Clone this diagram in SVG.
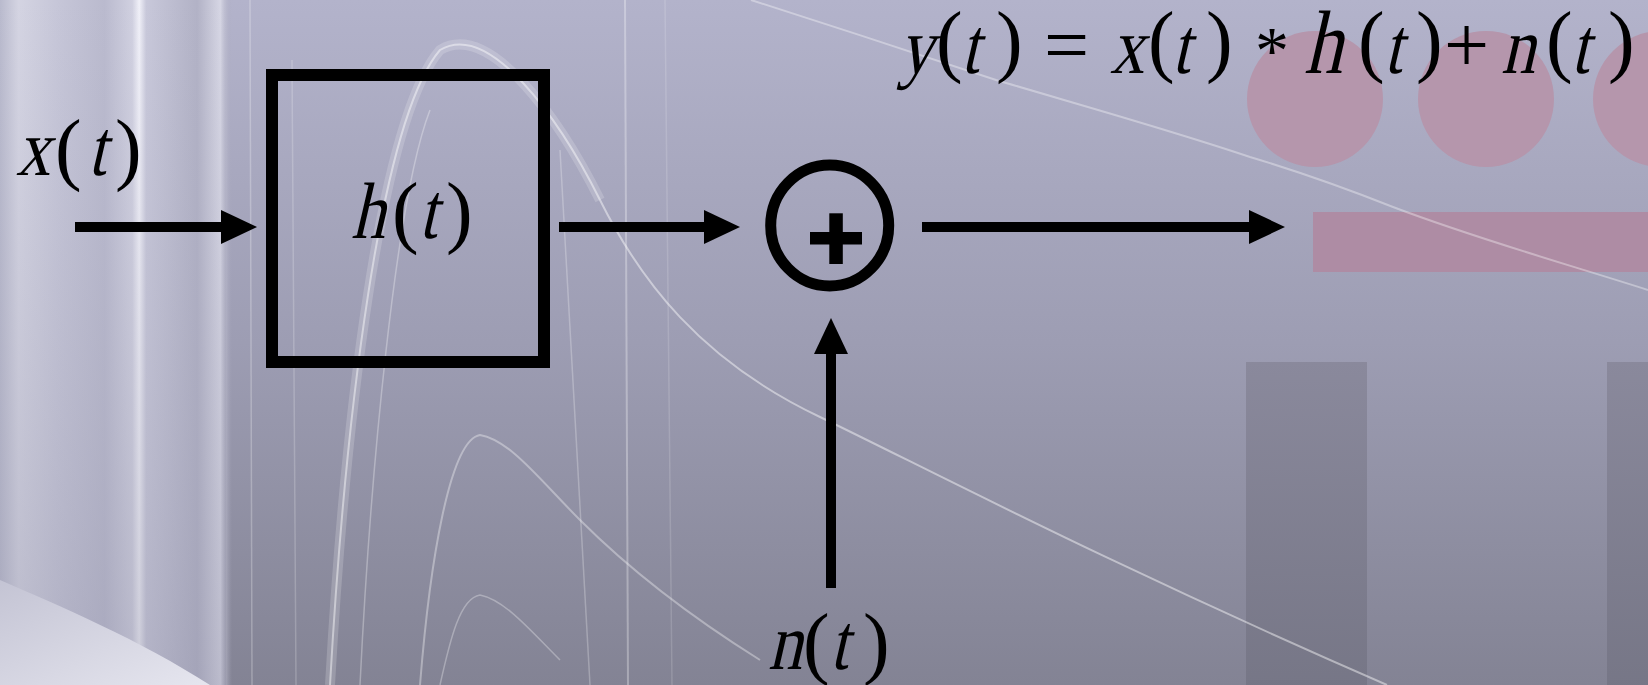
<svg xmlns="http://www.w3.org/2000/svg" width="1648" height="685" viewBox="0 0 1648 685">
  <defs>
    <linearGradient id="bg" x1="0" y1="0" x2="0" y2="1">
      <stop offset="0" stop-color="#b3b3cb"/>
      <stop offset="0.5" stop-color="#9d9db3"/>
      <stop offset="1" stop-color="#838394"/>
    </linearGradient>
    <linearGradient id="leftPanel" x1="0" y1="0" x2="1" y2="0">
      <stop offset="0" stop-color="#b9bacd"/>
      <stop offset="0.08" stop-color="#d4d4e2"/>
      <stop offset="0.25" stop-color="#c6c6d8"/>
      <stop offset="0.45" stop-color="#babace"/>
      <stop offset="0.57" stop-color="#d0d0e0"/>
      <stop offset="0.6" stop-color="#f0f0f8"/>
      <stop offset="0.63" stop-color="#c8c8da"/>
      <stop offset="0.85" stop-color="#b2b2c6"/>
      <stop offset="0.95" stop-color="#d6d6e4"/>
      <stop offset="1" stop-color="#a8a8bc" stop-opacity="0"/>
    </linearGradient>
    <linearGradient id="leftShade" x1="0" y1="0" x2="0" y2="1">
      <stop offset="0" stop-color="#9a9ab0" stop-opacity="0"/>
      <stop offset="1" stop-color="#8a8aa0" stop-opacity="0.35"/>
    </linearGradient>
    <linearGradient id="curl" x1="0" y1="0" x2="1" y2="1">
      <stop offset="0" stop-color="#c4c4d4"/>
      <stop offset="1" stop-color="#e6e6ef"/>
    </linearGradient>
    <linearGradient id="bar" x1="0" y1="0" x2="0" y2="1">
      <stop offset="0" stop-color="#8a899c"/>
      <stop offset="1" stop-color="#767686"/>
    </linearGradient>
    <marker id="arrow" markerUnits="userSpaceOnUse" markerWidth="36" markerHeight="34" refX="2" refY="17" orient="auto">
      <path d="M0,0 L36,17 L0,34 Z" fill="#000"/>
    </marker>
    <style>
      .math { font-family: "Liberation Serif", "Times New Roman", serif; font-size: 80px; fill: #000; }
      .conn { stroke: #000; stroke-width: 10; fill: none; marker-end: url(#arrow); }
      .streak { stroke: #ffffff; fill: none; }
    </style>
  </defs>

  <g id="background">
    <rect x="0" y="0" width="1648" height="685" fill="url(#bg)"/>
    <rect x="0" y="0" width="232" height="685" fill="url(#leftPanel)"/>
    <rect x="0" y="0" width="226" height="685" fill="url(#leftShade)"/>
    <path d="M0,580 C60,606 140,640 210,685 L0,685 Z" fill="url(#curl)"/>
    <circle cx="1315" cy="99" r="68" fill="#b596ac"/>
    <circle cx="1486" cy="99" r="68" fill="#b596ac"/>
    <circle cx="1661" cy="99" r="68" fill="#b596ac"/>
    <rect x="1313" y="212" width="340" height="60" fill="#ae8ca4"/>
    <rect x="1246" y="362" width="121" height="330" fill="url(#bar)"/>
    <rect x="1607" y="362" width="60" height="330" fill="url(#bar)"/>
    <g class="streak">
      <path d="M330,685 C345,420 380,120 440,50 C490,20 560,120 600,200" stroke-opacity="0.18" stroke-width="10"/>
      <path d="M330,685 C345,420 380,120 440,50 C490,20 560,120 600,200 C640,280 700,360 820,417 C930,470 1100,560 1387,685" stroke-opacity="0.45" stroke-width="2"/>
      <path d="M751,0 C830,25 920,55 996,80 C1080,105 1170,130 1250,157 C1300,172 1350,190 1393,207 C1480,240 1570,265 1648,290" stroke-opacity="0.35" stroke-width="2"/>
      <path d="M420,685 C430,560 450,440 480,435 C510,440 540,480 580,520 C620,560 680,610 760,660" stroke-opacity="0.35" stroke-width="2"/>
      <path d="M440,685 C450,640 460,598 480,595 C505,600 530,630 560,660" stroke-opacity="0.3" stroke-width="1.5"/>
      <path d="M360,685 C370,480 395,200 430,110" stroke-opacity="0.3" stroke-width="1.5"/>
      <line x1="250" y1="0" x2="252" y2="685" stroke-opacity="0.25" stroke-width="1.5"/>
      <line x1="292" y1="60" x2="296" y2="685" stroke-opacity="0.2" stroke-width="1.5"/>
      <line x1="560" y1="150" x2="590" y2="685" stroke-opacity="0.25" stroke-width="1.5"/>
      <line x1="625" y1="0" x2="628" y2="685" stroke-opacity="0.3" stroke-width="2"/>
      <line x1="665" y1="0" x2="672" y2="685" stroke-opacity="0.15" stroke-width="1.5"/>
    </g>
  </g>

  <g id="connectors">
    <line class="conn" x1="75" y1="227" x2="223" y2="227"/>
    <line class="conn" x1="559" y1="227" x2="706" y2="227"/>
    <line class="conn" x1="922" y1="227" x2="1251" y2="227"/>
    <line class="conn" x1="831" y1="588" x2="831" y2="352"/>
  </g>

  <g id="node-x">
    <g transform="translate(16 175) skewX(-13) scale(0.85 1) translate(-16 -175)"><text class="math" x="16" y="175">x</text></g>
    <text class="math" x="55" y="175">(</text>
    <g transform="translate(88 175) skewX(-13) scale(0.8 1) translate(-88 -175)"><text class="math" x="88" y="175">t</text></g>
    <text class="math" x="115" y="175">)</text>
  </g>

  <g id="node-h">
    <rect x="272" y="75" width="272" height="287" fill="none" stroke="#000" stroke-width="12"/>
    <g transform="translate(351 238) skewX(-13) scale(0.85 1) translate(-351 -238)"><text class="math" x="351" y="238">h</text></g>
    <text class="math" x="392" y="238">(</text>
    <g transform="translate(419 238) skewX(-13) scale(0.8 1) translate(-419 -238)"><text class="math" x="419" y="238">t</text></g>
    <text class="math" x="446" y="238">)</text>
  </g>

  <g id="node-sum">
    <ellipse cx="829.7" cy="225.5" rx="59" ry="60.5" fill="none" stroke="#000" stroke-width="11"/>
    <rect x="810" y="232" width="52" height="12.5" fill="#000"/>
    <rect x="829.3" y="213.3" width="13.5" height="50.7" fill="#000"/>
  </g>

  <g id="node-n">
    <g transform="translate(768 669) skewX(-13) scale(0.85 1) translate(-768 -669)"><text class="math" x="768" y="669">n</text></g>
    <text class="math" x="803" y="669">(</text>
    <g transform="translate(830 669) skewX(-13) scale(0.8 1) translate(-830 -669)"><text class="math" x="830" y="669">t</text></g>
    <text class="math" x="863" y="669">)</text>
  </g>

  <g id="node-y">
    <g transform="translate(899 73) skewX(-13) scale(0.85 1) translate(-899 -73)"><text class="math" x="899" y="73">y</text></g>
    <text class="math" x="936" y="67">(</text>
    <g transform="translate(961 73) skewX(-13) scale(0.8 1) translate(-961 -73)"><text class="math" x="961" y="73">t</text></g>
    <text class="math" x="996" y="67">)</text>
    <text class="math" x="1044" y="72">=</text>
    <g transform="translate(1110 73) skewX(-13) scale(0.85 1) translate(-1110 -73)"><text class="math" x="1110" y="73">x</text></g>
    <text class="math" x="1148" y="67">(</text>
    <g transform="translate(1172 73) skewX(-13) scale(0.8 1) translate(-1172 -73)"><text class="math" x="1172" y="73">t</text></g>
    <text class="math" x="1206" y="67">)</text>
    <text class="math" x="1255" y="73" style="font-size:68px">*</text>
    <g transform="translate(1304 73) skewX(-13) scale(0.85 1) translate(-1304 -73)"><text class="math" x="1304" y="73" style="font-size:90px">h</text></g>
    <text class="math" x="1358" y="67">(</text>
    <g transform="translate(1384 73) skewX(-13) scale(0.8 1) translate(-1384 -73)"><text class="math" x="1384" y="73">t</text></g>
    <text class="math" x="1416" y="67">)</text>
    <text class="math" x="1444" y="72">+</text>
    <g transform="translate(1501 73) skewX(-13) scale(0.85 1) translate(-1501 -73)"><text class="math" x="1501" y="73">n</text></g>
    <text class="math" x="1546" y="67">(</text>
    <g transform="translate(1571 73) skewX(-13) scale(0.8 1) translate(-1571 -73)"><text class="math" x="1571" y="73">t</text></g>
    <text class="math" x="1608" y="67">)</text>
  </g>
</svg>
